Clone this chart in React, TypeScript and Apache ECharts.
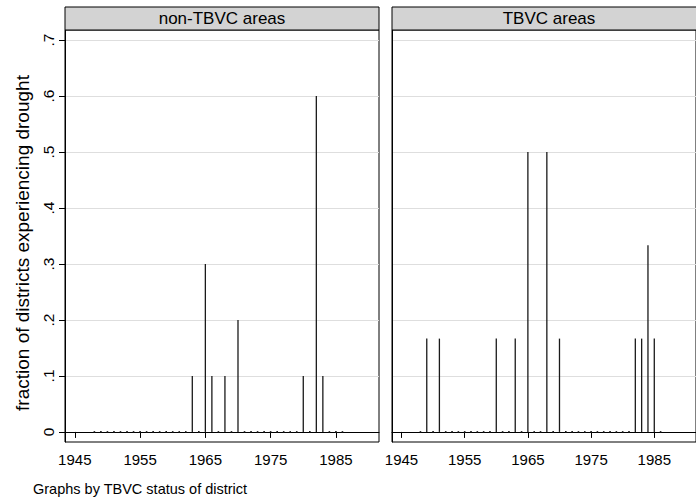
import React, { useEffect, useRef } from "react";
import * as echarts from "echarts";

const years = [
  1948, 1949, 1950, 1951, 1952, 1953, 1954, 1955, 1956, 1957,
  1958, 1959, 1960, 1961, 1962, 1963, 1964, 1965, 1966, 1967,
  1968, 1969, 1970, 1971, 1972, 1973, 1974, 1975, 1976, 1977,
  1978, 1979, 1980, 1981, 1982, 1983, 1984, 1985, 1986,
];

const nonTbvcValues = [
  0, 0, 0, 0, 0, 0, 0, 0, 0, 0,
  0, 0, 0, 0, 0, 0.1, 0, 0.3, 0.1, 0,
  0.1, 0, 0.2, 0, 0, 0, 0, 0, 0, 0,
  0, 0, 0.1, 0, 0.6, 0.1, 0, 0, 0,
];

const tbvcValues = [
  0, 0.1667, 0, 0.1667, 0, 0, 0, 0, 0, 0,
  0, 0, 0.1667, 0, 0, 0.1667, 0, 0.5, 0, 0,
  0.5, 0, 0.1667, 0, 0, 0, 0, 0, 0, 0,
  0, 0, 0, 0, 0.1667, 0.1667, 0.3333, 0.1667, 0,
];

const panelTitles = ["non-TBVC areas", "TBVC areas"];
const xTicks = [1945, 1955, 1965, 1975, 1985];
const yTicks = [0, 0.1, 0.2, 0.3, 0.4, 0.5, 0.6, 0.7];
const yTickLabels = ["0", ".1", ".2", ".3", ".4", ".5", ".6", ".7"];
const yTitle = "fraction of districts experiencing drought";
const note = "Graphs by TBVC status of district";

const FONT = "'Liberation Sans', Arial, Helvetica, sans-serif";

export default function App() {
  const ref = useRef<HTMLDivElement>(null);

  useEffect(() => {
    if (!ref.current) return;
    const chart = echarts.init(ref.current, undefined, { renderer: "svg" });

    const panelValues = [nonTbvcValues, tbvcValues];
    const gridLefts = [65, 392];
    const gridW = 314;
    const gridTop = 30;
    const gridH = 412;

    const grids = gridLefts.map((l) => ({
      left: l,
      top: gridTop,
      width: gridW,
      height: gridH,
      show: true,
      borderColor: "#000",
      borderWidth: 1,
      backgroundColor: "#fff",
    }));

    const xAxes = gridLefts.map((_, i) => ({
      type: "value",
      gridIndex: i,
      min: 1943.5,
      max: 1991.6,
      axisLine: { show: true, lineStyle: { color: "#000", width: 1 } },
      axisTick: {
        show: true,
        length: 6,
        customValues: xTicks,
        lineStyle: { color: "#000", width: 1 },
      },
      axisLabel: {
        customValues: xTicks,
        fontSize: 15,
        color: "#000",
        margin: 10,
        fontFamily: FONT,
        formatter: (v: number) => String(Math.round(v)),
      },
      splitLine: { show: false },
    }));

    const yAxes = gridLefts.map((_, i) => ({
      type: "value",
      gridIndex: i,
      min: -0.018,
      max: 0.718,
      axisLine: { show: true, lineStyle: { color: "#000", width: 1 } },
      axisTick: {
        show: i === 0,
        length: 6,
        customValues: yTicks,
        lineStyle: { color: "#000", width: 1 },
      },
      axisLabel: {
        show: i === 0,
        customValues: yTicks,
        rotate: 90,
        fontSize: 15.5,
        color: "#000",
        margin: 9,
        fontFamily: FONT,
        formatter: (v: number) => {
          const idx = yTicks.findIndex((t) => Math.abs(t - v) < 1e-9);
          return idx >= 0 ? yTickLabels[idx] : "";
        },
      },
      splitLine: { show: true, lineStyle: { color: "#dedede", width: 1 } },
    }));

    const series = panelValues.map((vals, i) => ({
      type: "custom",
      xAxisIndex: i,
      yAxisIndex: i,
      data: years.map((y, k) => [y, vals[k]]),
      encode: { x: 0, y: 1 },
      renderItem: (params: any, api: any) => {
        const x = api.value(0);
        const v = api.value(1);
        const p0 = api.coord([x, 0]);
        if (v > 0) {
          const p1 = api.coord([x, v]);
          return {
            type: "line",
            shape: { x1: p0[0], y1: p0[1], x2: p1[0], y2: p1[1] },
            style: { stroke: "#1a1a1a", lineWidth: 1.3 },
          };
        }
        return {
          type: "rect",
          shape: { x: p0[0] - 0.8, y: p0[1] - 0.8, width: 1.6, height: 1.6 },
          style: { fill: "#1a1a1a" },
        };
      },
    }));

    const graphics: any[] = [];
    gridLefts.forEach((l, i) => {
      graphics.push({
        type: "rect",
        shape: { x: l, y: 7, width: gridW, height: 23 },
        style: { fill: "#d3d3d3", stroke: "#000", lineWidth: 1 },
        z: 10,
      });
      graphics.push({
        type: "text",
        x: l + gridW / 2,
        y: 18.5,
        style: {
          text: panelTitles[i],
          align: "center",
          verticalAlign: "middle",
          fontSize: 17,
          fill: "#000",
          fontFamily: FONT,
        },
        z: 11,
      });
    });
    graphics.push({
      type: "text",
      x: 22,
      y: 243,
      rotation: Math.PI / 2,
      style: {
        text: yTitle,
        align: "center",
        verticalAlign: "middle",
        fontSize: 19,
        fill: "#000",
        fontFamily: FONT,
      },
    });
    graphics.push({
      type: "text",
      x: 33,
      y: 489,
      style: {
        text: note,
        align: "left",
        verticalAlign: "middle",
        fontSize: 14.5,
        fill: "#000",
        fontFamily: FONT,
      },
    });

    chart.setOption({
      animation: false,
      backgroundColor: "#fff",
      grid: grids,
      xAxis: xAxes,
      yAxis: yAxes,
      series,
      graphic: graphics,
    } as any);

    return () => chart.dispose();
  }, []);

  return (
    <div
      ref={ref}
      style={{ position: "fixed", left: 0, top: 0, width: 696, height: 499, background: "#fff" }}
    />
  );
}
